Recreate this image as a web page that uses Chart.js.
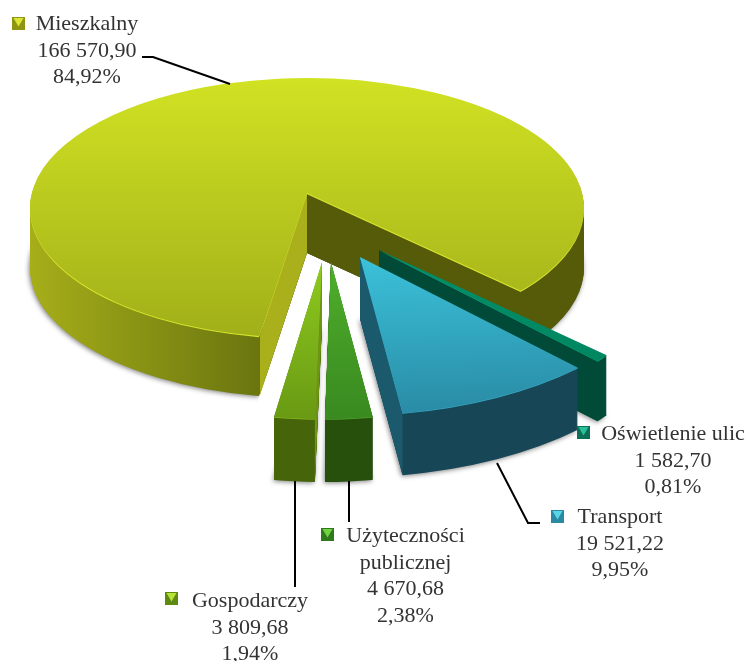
<!DOCTYPE html>
<html lang="pl">
<head>
<meta charset="utf-8">
<title>Zużycie energii wg sektorów</title>
<script src="https://cdn.jsdelivr.net/npm/chart.js@4/dist/chart.umd.min.js"></script>
<style>
html,body{margin:0;padding:0;background:#fff}
canvas{display:block}
</style>
</head>
<body>
<canvas id="c" width="747" height="661"></canvas>
<script>
// ---- data ----
const categories = ['Mieszkalny', 'Oświetlenie ulic', 'Transport', 'Użyteczności publicznej', 'Gospodarczy'];
const values = [166570.90, 1582.70, 19521.22, 4670.68, 3809.68];
const valueLabels = ['166 570,90', '1 582,70', '19 521,22', '4 670,68', '3 809,68'];
const percentLabels = ['84,92%', '0,81%', '9,95%', '2,38%', '1,94%'];
const nameLines = [['Mieszkalny'], ['Oświetlenie ulic'], ['Transport'], ['Użyteczności', 'publicznej'], ['Gospodarczy']];

// ---- presentation ----
const pieCentre = [307, 193];
const pieRotation = 190;
const explode = [[0, 0], [72, 57], [53, 64], [24, 69], [15, 69]];
const depth = [60, 60, 62, 63, 63];
// projection of each slice [a, b, c, d]; perspective shifts the big ellipse below the apex of its cut
const projections = [
  {m: [277, 0, 0, 130], shift: 15, notch: [[-47, 142], [212, 97]]},
  {m: [282, -13.4, 43, 160], shift: 0},
  {m: [316, -11.6, 12, 158], shift: 0},
  {m: [320.5, -10, 10.8, 156.7], shift: 0},
  {m: [337, -1.6, 10.6, 157.1], shift: 0}
];
const topColors = [
  ['#d1e223', '#a1af19', -130, 130],
  ['#008e69', '#00855f', 0, 160],
  ['#3bc2da', '#2a8ca6', 0, 156],
  ['#4fae2b', '#398a20', 0, 156],
  ['#8fca1f', '#699a13', 0, 156]
];
const rimColors = [
  ['#a6ae19', '#6a750f', '#565b0a'],
  ['#004a37', '#004a37', '#004a37'],
  ['#17495a', '#174656', '#174656'],
  ['#28530e', '#27500d', '#27500d'],
  ['#4a6a0c', '#46640a', '#46640a']
];
const faceColors = [
  ['#aab01c', '#565b0a'],
  ['#004a37', '#004a37'],
  ['#1a5a6c', '#1a5a6c'],
  ['#3b7d1f', '#3b7d1f'],
  ['#6f9413', '#6f9413']
];
const rimLight = ['#d6e32c', '#0f9a75', '#36a6bf', '#4f9f2c', '#86b31f'];
const rimLightShift = [1.2, 0.7, 0.7, 0.7, 0.7];
const markerColors = [['#8f9712', '#dde536'], ['#0a6f56', '#29c09a'], ['#2a8aa2', '#5ad6e8'], ['#2f7a1a', '#72d244'], ['#5f8a12', '#b7e338']];
const labelPlacement = [
  {x: 87, y: 30, mx: 12, my: 17},
  {x: 673, y: 440, mx: 577, my: 426},
  {x: 620, y: 523, mx: 551, my: 510},
  {x: 405.5, y: 542, mx: 321, my: 528},
  {x: 250, y: 607, mx: 165, my: 592}
];
const leaderLines = [
  [[142, 57], [153, 57], [230, 84]],
  [[497, 463], [528, 523], [540, 523]],
  [[349, 481], [349, 522]],
  [[295, 481], [295, 587]]
];
const labelFont = '22px "Liberation Serif"';
const labelLeading = 26.5;

// ---- 3D view of the library's arc elements ----
function drawView(ctx, el, index, lift, fill, shadow) {
  const view = projections[index];
  const r = el.outerRadius;
  const ax = pieCentre[0] + explode[index][0];
  const ay = pieCentre[1] + explode[index][1];
  const original = el.options;
  const opts = Object.create(original);
  opts.backgroundColor = fill;
  ctx.save();
  ctx.translate(ax, ay + lift);
  if (view.notch) {
    const [p, q] = view.notch;
    ctx.beginPath();
    ctx.rect(-2000, -2000, 4000, 4000);
    ctx.moveTo(0, 0);
    ctx.lineTo(p[0] * 4, p[1] * 4);
    ctx.lineTo(q[0] * 4, q[1] * 4);
    ctx.closePath();
    ctx.clip('evenodd');
  }
  const m = view.m;
  ctx.translate(0, view.shift);
  ctx.transform(m[0] / r, m[1] / r, m[2] / r, m[3] / r, 0, 0);
  ctx.translate(-el.x, -el.y);
  if (shadow) {
    ctx.shadowColor = 'rgba(0,0,0,0.5)';
    ctx.shadowBlur = 5;
    ctx.shadowOffsetX = -1;
    ctx.shadowOffsetY = 1;
  }
  el.options = opts;
  el.draw(ctx);
  el.options = original;
  ctx.restore();
}

function topGradient(ctx, el, index) {
  const [c0, c1, y0, y1] = topColors[index];
  const r = el.outerRadius, d = projections[index].m[3];
  const g = ctx.createLinearGradient(0, el.y + r * y0 / d, 0, el.y + r * y1 / d);
  g.addColorStop(0, c0);
  g.addColorStop(1, c1);
  return g;
}

function rimGradient(ctx, el, index) {
  const [c0, c1, c2] = rimColors[index];
  const r = el.outerRadius;
  const g = ctx.createLinearGradient(el.x - r, 0, el.x + r, 0);
  g.addColorStop(0, c0);
  g.addColorStop(0.415, c1);
  g.addColorStop(0.416, c2);
  g.addColorStop(1, c2);
  return g;
}

function drawFace(ctx, index, edge, angle, color) {
  const view = projections[index];
  const ax = pieCentre[0] + explode[index][0];
  const ay = pieCentre[1] + explode[index][1];
  const m = view.m, c = Math.cos(angle), s = Math.sin(angle);
  const px = ax + (view.notch ? view.notch[edge][0] : m[0] * c + m[2] * s);
  const py = ay + (view.notch ? view.notch[edge][1] : m[1] * c + m[3] * s);
  ctx.save();
  ctx.fillStyle = color;
  ctx.beginPath();
  ctx.moveTo(ax, ay);
  ctx.lineTo(px, py);
  ctx.lineTo(px, py + depth[index]);
  ctx.lineTo(ax, ay + depth[index]);
  ctx.closePath();
  ctx.fill();
  ctx.restore();
}

const pie3d = {
  id: 'pie3d',
  beforeDatasetDraw(chart, args) {
    const ctx = chart.ctx;
    args.meta.data.forEach((el, i) => {
      // outer wall: the arc repeated downwards
      const rim = rimGradient(ctx, el, i);
      for (let s = depth[i]; s >= 1; s--) {
        drawView(ctx, el, i, s, rim, s === depth[i]);
      }
      // cut faces turned towards the viewer
      if (Math.cos(el.startAngle) < 0) drawFace(ctx, i, 0, el.startAngle, faceColors[i][0]);
      if (Math.cos(el.endAngle) > 0) drawFace(ctx, i, 1, el.endAngle, faceColors[i][1]);
      // light rim and top
      drawView(ctx, el, i, rimLightShift[i], rimLight[i], false);
      drawView(ctx, el, i, 0, topGradient(ctx, el, i), false);
    });
    return false;
  },
  afterDraw(chart) {
    const ctx = chart.ctx;
    ctx.save();
    ctx.strokeStyle = '#000';
    ctx.lineWidth = 2;
    leaderLines.forEach(line => {
      ctx.beginPath();
      line.forEach((p, k) => k ? ctx.lineTo(p[0], p[1]) : ctx.moveTo(p[0], p[1]));
      ctx.stroke();
    });
    ctx.font = labelFont;
    ctx.textAlign = 'center';
    ctx.textBaseline = 'alphabetic';
    categories.forEach((name, i) => {
      const p = labelPlacement[i];
      const lines = nameLines[i].concat(valueLabels[i], percentLabels[i]);
      ctx.fillStyle = '#333333';
      lines.forEach((t, k) => ctx.fillText(t, p.x, p.y + k * labelLeading));
      const size = 13;
      ctx.fillStyle = markerColors[i][0];
      ctx.fillRect(p.mx, p.my, size, size);
      ctx.fillStyle = markerColors[i][1];
      ctx.beginPath();
      ctx.moveTo(p.mx + 1.5, p.my + 1);
      ctx.lineTo(p.mx + size - 1.5, p.my + 1);
      ctx.lineTo(p.mx + size / 2, p.my + size - 3.5);
      ctx.closePath();
      ctx.fill();
    });
    ctx.restore();
  }
};

new Chart(document.getElementById('c'), {
  type: 'pie',
  data: {
    labels: categories,
    datasets: [{
      data: values,
      backgroundColor: rimLight,
      borderWidth: 0
    }]
  },
  options: {
    responsive: false,
    animation: false,
    rotation: pieRotation,
    plugins: {legend: {display: false}, tooltip: {enabled: false}}
  },
  plugins: [pie3d]
});
</script>
</body>
</html>
